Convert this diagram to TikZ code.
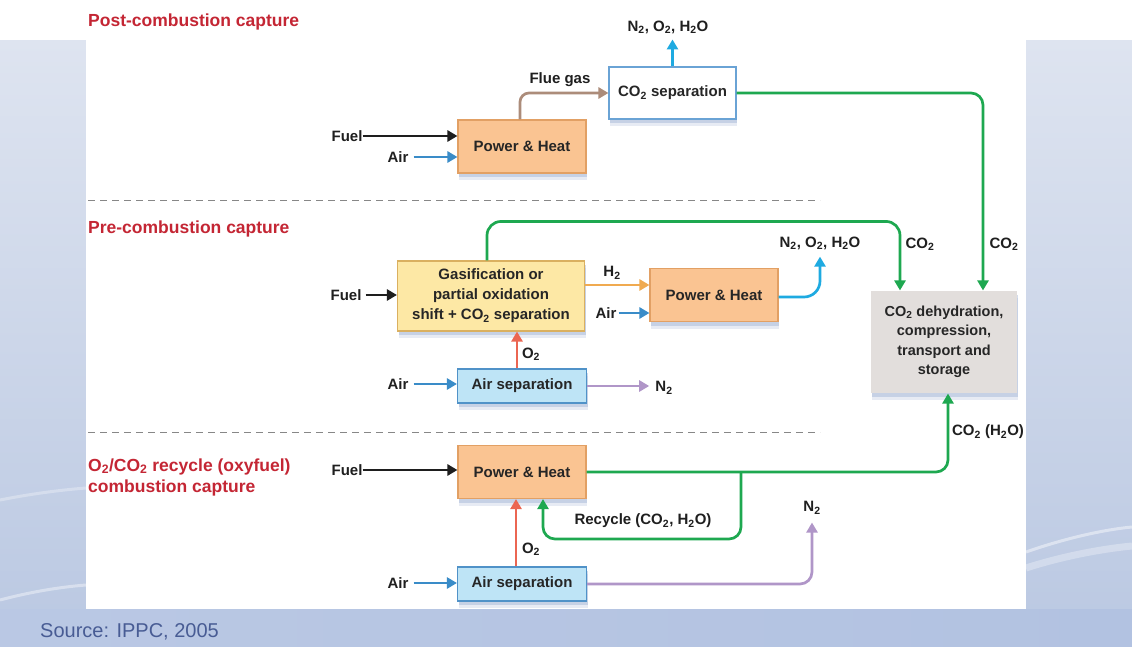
\documentclass[tikz,border=0pt]{standalone}
\usepackage{fontspec}
\setmainfont{Liberation Sans}
\usetikzlibrary{arrows.meta,shadows,calc}
\definecolor{titlered}{RGB}{196,38,52}
\definecolor{phfill}{RGB}{250,196,146}
\definecolor{phdraw}{RGB}{226,160,100}
\definecolor{gasfill}{RGB}{253,232,165}
\definecolor{gasdraw}{RGB}{218,176,96}
\definecolor{asfill}{RGB}{190,228,246}
\definecolor{asdraw}{RGB}{80,146,200}
\definecolor{sepdraw}{RGB}{106,163,213}
\definecolor{dehydfill}{RGB}{226,222,220}
\definecolor{greenc}{RGB}{30,168,80}
\definecolor{cyanc}{RGB}{30,170,225}
\definecolor{airc}{RGB}{58,140,200}
\definecolor{fluec}{RGB}{172,140,122}
\definecolor{h2c}{RGB}{240,170,80}
\definecolor{o2c}{RGB}{235,102,82}
\definecolor{n2c}{RGB}{176,150,200}
\definecolor{fuelc}{RGB}{30,30,30}
\definecolor{shadowc}{RGB}{160,178,212}
\definecolor{bandtop}{RGB}{222,228,240}
\definecolor{bandbot}{RGB}{186,200,226}
\definecolor{bottomc}{RGB}{178,194,225}
\definecolor{sourcec}{RGB}{72,92,148}
\definecolor{dashc}{RGB}{135,135,135}
\begin{document}
\begin{tikzpicture}[x=1pt,y=-1pt,
  lbl/.style={font=\fontsize{15}{18}\selectfont\bfseries, inner sep=0pt, text=black!88},
  box/.style={draw, line width=1.1pt, font=\fontsize{15}{20}\selectfont\bfseries, align=center, inner sep=0pt, text=black!85,
    drop shadow={shadow xshift=1pt, shadow yshift=-7pt, fill=shadowc, opacity=.25},
    drop shadow={shadow xshift=1pt, shadow yshift=-4pt, fill=shadowc, opacity=.45}},
  phbox/.style={box, fill=phfill, draw=phdraw, minimum width=128pt, minimum height=53pt},
  gasbox/.style={box, fill=gasfill, draw=gasdraw, minimum width=187pt, minimum height=70pt},
  asbox/.style={box, fill=asfill, draw=asdraw, minimum width=129pt, minimum height=34pt},
  sepbox/.style={box, fill=white, draw=sepdraw, minimum width=127pt, minimum height=52pt},
  dehydbox/.style={box, draw=none, fill=dehydfill, minimum width=146pt, minimum height=102pt, font=\fontsize{14.5}{19.5}\selectfont\bfseries},
  arr/.style={line width=2.7pt, -{Triangle[length=10pt,width=11pt]}},
  titlelbl/.style={font=\fontsize{17.5}{21}\selectfont\bfseries, text=titlered, anchor=west, inner sep=0pt, align=left},
  dashline/.style={dashc, line width=1pt, dash pattern=on 7pt off 5pt}
]
\useasboundingbox (0,0) rectangle (1132,646);
% background
\fill[white] (0,0) rectangle (1132,646);
\shade[top color=bandtop, bottom color=bandbot] (0,40) rectangle (86,646);
\shade[top color=bandtop, bottom color=bandbot] (1026,40) rectangle (1132,646);
\shade[left color=bottomc!90!white, right color=bottomc] (0,609) rectangle (1132,646);
\draw[white, opacity=.45, line width=3pt] (1026,552) .. controls (1060,540) and (1100,530) .. (1132,527);
\draw[white, opacity=.3, line width=7pt] (1026,568) .. controls (1060,557) and (1100,549) .. (1132,546);
\draw[white, opacity=.4, line width=3pt] (0,600) .. controls (30,592) and (60,587) .. (86,585);
\draw[white, opacity=.3, line width=3pt] (0,500) .. controls (30,494) and (60,490) .. (86,488);
\fill[white] (86,40) rectangle (1026,609);

% titles
\node[titlelbl] (t1) at (88,22) {Post-combustion capture};
\node[titlelbl] (t2) at (88,229) {Pre-combustion capture};
\node[titlelbl] (t3) at (88,477) {O\textsubscript{2}/CO\textsubscript{2} recycle (oxyfuel)\\combustion capture};

% dashed separators
\draw[dashline] (88,200) -- (820,200);
\draw[dashline] (88,432) -- (820,432);

% boxes
\node[phbox] (ph1) at (522,146.5) {Power \& Heat};
\node[sepbox] (co2sep) at (672.5,93) {CO\textsubscript{2} separation};
\node[gasbox] (gas) at (491,296) {Gasification or\\partial oxidation\\shift + CO\textsubscript{2} separation};
\node[phbox] (ph2) at (714,295) {Power \& Heat};
\node[dehydbox] (dehyd) at (944,342) {CO\textsubscript{2} dehydration,\\compression,\\transport and\\storage};
\node[asbox] (airsep1) at (522,386) {Air separation};
\node[phbox] (ph3) at (522,472) {Power \& Heat};
\node[asbox] (airsep2) at (522,584) {Air separation};

% labels
\node[lbl] (fuel1) at (347,136) {Fuel};
\node[lbl] (air1) at (398,157) {Air};
\node[lbl] (flue) at (560,80) {Flue gas};
\node[lbl] (n2top) at (668,27) {N\textsubscript{2}, O\textsubscript{2}, H\textsubscript{2}O};
\node[lbl] (co2a) at (920,244) {CO\textsubscript{2}};
\node[lbl] (co2b) at (1004,244) {CO\textsubscript{2}};
\node[lbl] (fuel2) at (346,295) {Fuel};
\node[lbl] (h2) at (612,273) {H\textsubscript{2}};
\node[lbl] (air2) at (606,313) {Air};
\node[lbl] (n2o2) at (820,243) {N\textsubscript{2}, O\textsubscript{2}, H\textsubscript{2}O};
\node[lbl] (o2a) at (531,354) {O\textsubscript{2}};
\node[lbl] (air3) at (398,384) {Air};
\node[lbl] (n2a) at (664,388) {N\textsubscript{2}};
\node[lbl] (fuel3) at (347,470) {Fuel};
\node[lbl] (recyc) at (643,521) {Recycle (CO\textsubscript{2}, H\textsubscript{2}O)};
\node[lbl] (o2b) at (531,549) {O\textsubscript{2}};
\node[lbl] (air4) at (398,583) {Air};
\node[lbl] (n2b) at (812,508) {N\textsubscript{2}};
\node[lbl] (co2h2o) at (988,432) {CO\textsubscript{2} (H\textsubscript{2}O)};
\node[font=\fontsize{20}{24}\selectfont, text=sourcec, anchor=west, inner sep=0pt] (src) at (40,632) {Source: IPPC, 2005};

% post-combustion connectors
\draw[arr, fuelc] (fuel1.east) -- (fuel1.east -| ph1.west);
\draw[arr, airc, shorten <=5pt] (air1.east) -- (air1.east -| ph1.west);
\draw[arr, fluec, rounded corners=9pt] ([xshift=-2pt]ph1.north) |- (co2sep.west);
\draw[arr, cyanc] (co2sep.north) -- ++(0,-27);
\draw[arr, greenc, rounded corners=12pt] (co2sep.east) -| ([xshift=39pt]dehyd.north);

% pre-combustion connectors
\draw[arr, fuelc, shorten <=4pt] (fuel2.east) -- (fuel2.east -| gas.west);
\draw[arr, greenc, rounded corners=14pt] ([xshift=-4pt]gas.north) -- ++(0,-39) -| ([xshift=-44pt]dehyd.north);
\draw[arr, h2c] (gas.east |- 0,285) -- (ph2.west |- 0,285);
\draw[arr, airc, shorten <=2pt] (air2.east) -- (air2.east -| ph2.west);
\draw[arr, cyanc, rounded corners=16pt] (ph2.east |- 0,297) -| ([yshift=-7pt]n2o2.south);
\draw[arr, o2c] ([xshift=-5pt]airsep1.north) -- ([xshift=-5pt]airsep1.north |- gas.south);
\draw[arr, airc, shorten <=5pt] (air3.east) -- (air3.east -| airsep1.west);
\draw[arr, n2c, shorten >=6pt] (airsep1.east) -- (airsep1.east -| n2a.west);

% oxyfuel connectors
\draw[arr, fuelc] (fuel3.east) -- (fuel3.east -| ph3.west);
\draw[arr, greenc, rounded corners=12pt] (ph3.east) -| ([xshift=4pt]dehyd.south);
\coordinate (br) at (741,472);
\draw[arr, greenc, rounded corners=12pt] (br) -- (br |- 0,539) -| ([xshift=21pt]ph3.south);
\draw[arr, o2c] ([xshift=-6pt]airsep2.north) -- ([xshift=-6pt]ph3.south);
\draw[arr, airc, shorten <=5pt] (air4.east) -- (air4.east -| airsep2.west);
\draw[arr, n2c, rounded corners=12pt, shorten >=8pt] (airsep2.east) -| (n2b.south);
\end{tikzpicture}
\end{document}
